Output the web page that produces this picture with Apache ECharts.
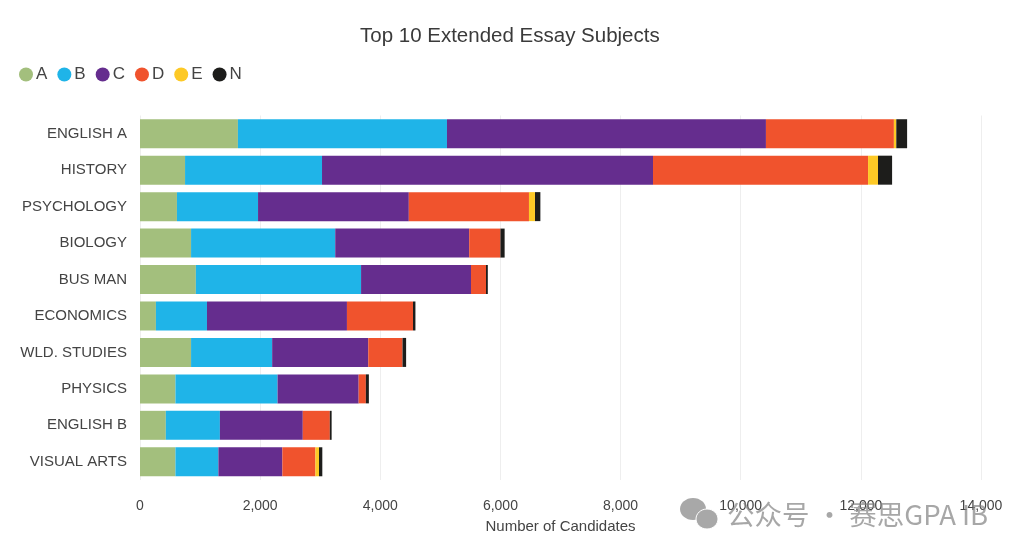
<!DOCTYPE html>
<html>
<head>
<meta charset="utf-8">
<title>Top 10 Extended Essay Subjects</title>
<style>
html, body { margin: 0; padding: 0; background: #fff; }
#chart { width: 1024px; height: 556px; }
</style>
<script src="https://cdn.jsdelivr.net/npm/echarts@6/dist/echarts.min.js"></script>
</head>
<body>
<div id="chart"></div>
<script>
var subjects = ['ENGLISH A', 'HISTORY', 'PSYCHOLOGY', 'BIOLOGY', 'BUS MAN', 'ECONOMICS', 'WLD. STUDIES', 'PHYSICS', 'ENGLISH B', 'VISUAL ARTS'];
var gradeNames = ['A', 'B', 'C', 'D', 'E', 'N'];
var gradeColors = ['#a3bf7d', '#1fb4e8', '#652d8e', '#f0532d', '#fdc926', '#1d1d1b'];

var gradeA = [1630, 750, 615, 850, 930, 265, 850, 590, 430, 590];
var gradeB = [3480, 2280, 1350, 2400, 2750, 850, 1350, 1700, 900, 715];
var gradeC = [5310, 5510, 2510, 2230, 1830, 2330, 1600, 1350, 1380, 1065];
var gradeD = [2130, 3580, 2000, 520, 250, 1100, 570, 120, 450, 550];
var gradeE = [40, 165, 100, 0, 0, 0, 0, 0, 0, 60];
var gradeN = [180, 235, 90, 70, 30, 40, 60, 50, 30, 55];
var gradeValues = [gradeA, gradeB, gradeC, gradeD, gradeE, gradeN];

var chart = echarts.init(document.getElementById('chart'));
var font = '"Liberation Sans", Arial, sans-serif';

var series = gradeNames.map(function (name, i) {
    return {
        name: name,
        type: 'bar',
        stack: 'grades',
        barWidth: 29,
        itemStyle: { color: gradeColors[i] },
        data: gradeValues[i]
    };
});

chart.setOption({
    animation: false,
    backgroundColor: '#fff',
    title: {
        text: 'Top 10 Extended Essay Subjects',
        left: 355,
        top: 21,
        textStyle: { fontFamily: font, fontSize: 20.5, fontWeight: 'normal', color: '#3a3a3a' }
    },
    legend: {
        left: 14,
        top: 61,
        icon: 'circle',
        itemWidth: 14,
        itemHeight: 14,
        itemGap: 10,
        data: gradeNames,
        textStyle: { fontFamily: font, fontSize: 17, color: '#444', padding: [0, 0, 0, -2] }
    },
    grid: { left: 140, right: 43, top: 115.5, bottom: 76 },
    xAxis: {
        type: 'value',
        min: 0,
        max: 14000,
        interval: 2000,
        axisLine: { show: false },
        axisTick: { show: false },
        splitLine: { lineStyle: { color: '#eeeeee', width: 1 } },
        axisLabel: {
            margin: 19,
            fontFamily: font,
            fontSize: 14,
            color: '#444',
            formatter: function (v) { return v.toLocaleString('en-US'); }
        },
        name: 'Number of Candidates',
        nameLocation: 'middle',
        nameGap: 39,
        nameTextStyle: { fontFamily: font, fontSize: 15, color: '#444' }
    },
    yAxis: {
        type: 'category',
        inverse: true,
        data: subjects,
        axisLine: { show: false },
        axisTick: { show: false },
        axisLabel: { margin: 13, fontFamily: font, fontSize: 15, color: '#444', padding: [5, 0, 0, 0] }
    },
    graphic: [
        // watermark
        { type: 'ellipse', shape: { cx: 693, cy: 509, rx: 13, ry: 11 }, style: { fill: '#a8a8a8' } },
        { type: 'ellipse', shape: { cx: 707, cy: 519, rx: 11, ry: 10 }, style: { fill: '#a8a8a8', stroke: '#fff', lineWidth: 1 } },
        {
            type: 'text',
            left: 727,
            top: 501,
            z: 10,
            style: {
                text: '公众号 · 赛思GPA IB',
                fill: 'rgba(130,130,130,0.7)',
                fontFamily: '"Noto Sans CJK SC", sans-serif',
                fontSize: 27.5
            }
        }
    ],
    series: series
});
</script>
</body>
</html>
